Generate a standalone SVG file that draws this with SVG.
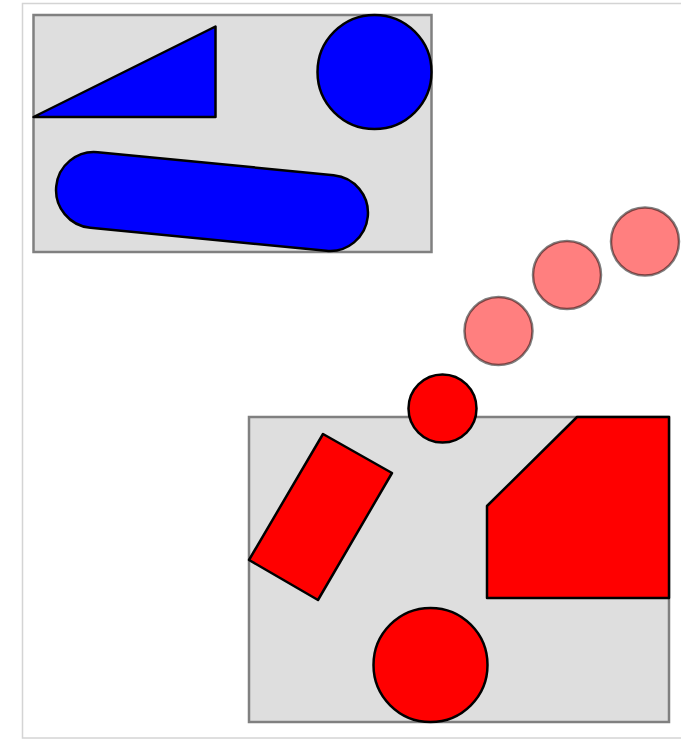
<svg xmlns="http://www.w3.org/2000/svg" width="681" height="740" viewBox="0 0 681 740">
<style>
.frame{fill:#fff;stroke:#d4d4d4;stroke-width:1.5}
.box{fill:#dedede;stroke:#808080;stroke-width:2.5}
.blue{fill:#0000ff;stroke:#000;stroke-width:2.5;stroke-linejoin:round}
.red{fill:#ff0000;stroke:#000;stroke-width:2.5;stroke-linejoin:round}
.ghost{fill:#ff0000;fill-opacity:0.5;stroke:#000;stroke-opacity:0.5;stroke-width:2.5}
</style>
<rect width="681" height="740" fill="#fff"/>
<rect class="frame" x="22.5" y="3.5" width="700" height="734.5"/>
<g id="blue-group">
  <rect class="box" x="33.5" y="15" width="398" height="237"/>
  <polygon id="triangle" class="blue" points="33.5,117 215.5,26.5 215.5,117"/>
  <circle id="blue-circle" class="blue" cx="374.5" cy="72" r="57"/>
  <rect id="stadium" class="blue" x="55.5" y="163.5" width="313" height="76" rx="38" ry="38" transform="rotate(5.57 212 201.5)"/>
</g>
<g id="ghosts">
  <circle class="ghost" cx="498.5" cy="331" r="34"/>
  <circle class="ghost" cx="567" cy="275" r="34"/>
  <circle class="ghost" cx="645" cy="241.5" r="34"/>
</g>
<g id="red-group">
  <rect class="box" x="249" y="417" width="420" height="305"/>
  <polygon id="rot-rect" class="red" points="323,434 392,473 318,600 249,560"/>
  <polygon id="pentagon" class="red" points="577,417 669,417 669,598 487,598 487,506"/>
  <circle id="big-circle" class="red" cx="430.5" cy="665" r="57"/>
  <circle id="small-circle" class="red" cx="442.5" cy="408.5" r="34"/>
</g>
</svg>
